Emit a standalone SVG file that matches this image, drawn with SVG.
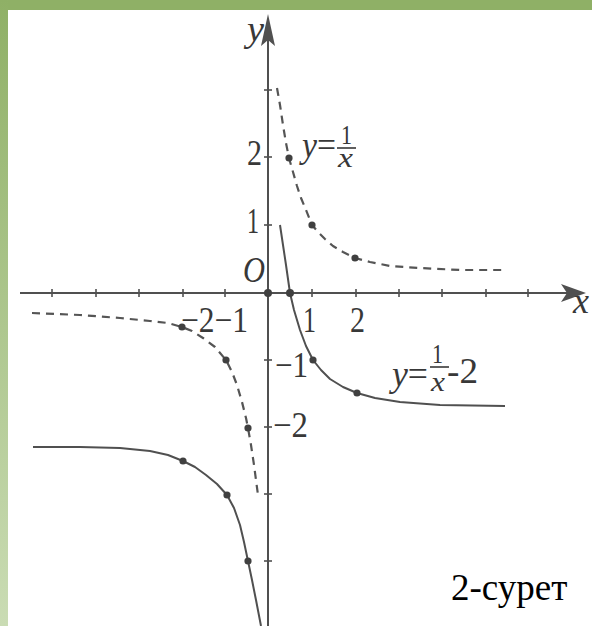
<svg xmlns="http://www.w3.org/2000/svg" width="592" height="626" viewBox="0 0 592 626">
  <defs>
    <linearGradient id="leftbar" x1="0" y1="0" x2="0" y2="1">
      <stop offset="0" stop-color="#8fb066"/>
      <stop offset="1" stop-color="#cadcb4"/>
    </linearGradient>
    <style>
      .axis { stroke: #505050; stroke-width: 2; fill: none; }
      .tick { stroke: #505050; stroke-width: 1.6; }
      .dash { stroke: #555; stroke-width: 2.2; fill: none; stroke-dasharray: 8 6; stroke-linecap: butt; stroke-linejoin: round; }
      .solid { stroke: #505050; stroke-width: 2; fill: none; stroke-linejoin: round; }
      .dot { fill: #404040; }
      .lbl { font-family: "Liberation Serif", serif; font-size: 36px; fill: #383838; }
      .fr { font-family: "Liberation Serif", serif; font-size: 28px; fill: #383838; }
      .it { font-style: italic; }
      .cap { font-family: "Liberation Serif", serif; font-size: 37px; fill: #000; }
    </style>
  </defs>
  <rect x="0" y="0" width="592" height="626" fill="#fff"/>
  <rect x="0" y="0" width="592" height="10" fill="#8fb066"/>
  <rect x="0" y="0" width="8" height="626" fill="url(#leftbar)"/>

  <g id="axes">
    <line class="axis" x1="20" y1="293" x2="575" y2="293"/>
    <path d="M586,293 L561,284 L567,293 L561,302 Z" fill="#505050"/>
    <line class="axis" x1="268" y1="626" x2="268" y2="30"/>
    <path d="M268,14 L261,46 L268,40 L275,46 Z" fill="#505050"/>
    <g class="tick">
      <line x1="52" y1="289" x2="52" y2="297"/>
      <line x1="96" y1="289" x2="96" y2="297"/>
      <line x1="139" y1="289" x2="139" y2="297"/>
      <line x1="183" y1="289" x2="183" y2="297"/>
      <line x1="225" y1="289" x2="225" y2="297"/>
      <line x1="312" y1="289" x2="312" y2="297"/>
      <line x1="356" y1="289" x2="356" y2="297"/>
      <line x1="399" y1="289" x2="399" y2="297"/>
      <line x1="442" y1="289" x2="442" y2="297"/>
      <line x1="486" y1="289" x2="486" y2="297"/>
      <line x1="528" y1="289" x2="528" y2="297"/>
      <line x1="264" y1="90" x2="272" y2="90"/>
      <line x1="264" y1="157" x2="272" y2="157"/>
      <line x1="264" y1="225" x2="272" y2="225"/>
      <line x1="264" y1="360" x2="272" y2="360"/>
      <line x1="264" y1="427" x2="272" y2="427"/>
      <line x1="264" y1="494" x2="272" y2="494"/>
      <line x1="264" y1="561" x2="272" y2="561"/>
    </g>
  </g>

  <g id="curves">
    <polyline id="hyp-pos" class="dash" points="277,88 280,105 283,125 286,143 289,158 293,172 297,186 301,198 306,210 312,225 318,232 325,239 333,246 343,252 355,258 370,262 390,266 420,268 460,270 505,270"/>
    <polyline id="hyp-neg" class="dash" points="32,313 80,315 120,318 150,321 168,323 182,327 192,331 203,338 215,347 226,360 232,372 237,385 242,402 246,418 248,428 251,445 254,465 258,495"/>
    <polyline id="shift-pos" class="solid" points="280,225 283,245 286,265 290,293 294,310 300,330 306,346 313,360 321,370 330,379 343,387 357,393 375,398 400,402 440,405 505,406"/>
    <polyline id="shift-neg" class="solid" points="33,447 80,447 120,448 150,451 168,455 183,461 195,467 206,475 217,484 227,495 234,508 240,525 244,542 248,561 252,580 256,600 261,626"/>
  </g>

  <g id="points">
    <circle class="dot" cx="268" cy="293" r="4"/>
    <circle class="dot" cx="290" cy="293" r="4"/>
    <circle class="dot" cx="289" cy="158" r="3.6"/>
    <circle class="dot" cx="312" cy="225" r="3.6"/>
    <circle class="dot" cx="355" cy="258" r="3.6"/>
    <circle class="dot" cx="182" cy="327" r="3.6"/>
    <circle class="dot" cx="226" cy="360" r="3.6"/>
    <circle class="dot" cx="248" cy="428" r="3.6"/>
    <circle class="dot" cx="313" cy="360" r="3.6"/>
    <circle class="dot" cx="357" cy="393" r="3.6"/>
    <circle class="dot" cx="183" cy="461" r="3.6"/>
    <circle class="dot" cx="227" cy="495" r="3.6"/>
    <circle class="dot" cx="248" cy="561" r="3.6"/>
  </g>

  <g id="labels">
    <text class="lbl it" x="247" y="41" textLength="17" lengthAdjust="spacingAndGlyphs">y</text>
    <text class="lbl it" x="573" y="313" textLength="16" lengthAdjust="spacingAndGlyphs">x</text>
    <text class="lbl it" x="243" y="282" textLength="22" lengthAdjust="spacingAndGlyphs">O</text>
    <text class="lbl" x="247" y="165" textLength="15" lengthAdjust="spacingAndGlyphs">2</text>
    <text class="lbl" x="247" y="233" textLength="12" lengthAdjust="spacingAndGlyphs">1</text>
    <text class="lbl" x="181" y="332" textLength="67" lengthAdjust="spacingAndGlyphs">−2−1</text>
    <text class="lbl" x="303" y="332" textLength="13" lengthAdjust="spacingAndGlyphs">1</text>
    <text class="lbl" x="350" y="332" textLength="15" lengthAdjust="spacingAndGlyphs">2</text>
    <text class="lbl" x="275" y="377" textLength="33" lengthAdjust="spacingAndGlyphs">−1</text>
    <text class="lbl" x="273" y="437" textLength="35" lengthAdjust="spacingAndGlyphs">−2</text>
  </g>

  <g id="label-hyp">
    <text class="lbl" x="302" y="157" textLength="34" lengthAdjust="spacingAndGlyphs"><tspan class="it">y</tspan>=</text>
    <text class="fr" x="341" y="144" textLength="11" lengthAdjust="spacingAndGlyphs">1</text>
    <line x1="337" y1="148" x2="356" y2="148" stroke="#383838" stroke-width="1.6"/>
    <text class="fr it" x="338" y="167" textLength="15" lengthAdjust="spacingAndGlyphs">x</text>
  </g>

  <g id="label-shift">
    <text class="lbl" x="392" y="386" textLength="36" lengthAdjust="spacingAndGlyphs"><tspan class="it">y</tspan>=</text>
    <text class="fr" x="432" y="363" textLength="11" lengthAdjust="spacingAndGlyphs">1</text>
    <line x1="430" y1="367" x2="449" y2="367" stroke="#383838" stroke-width="1.6"/>
    <text class="fr it" x="431" y="391" textLength="14" lengthAdjust="spacingAndGlyphs">x</text>
    <text class="lbl" x="447" y="383" textLength="31" lengthAdjust="spacingAndGlyphs">-2</text>
  </g>

  <g id="caption">
    <text class="cap" x="451" y="600">2-сурет</text>
  </g>
</svg>
